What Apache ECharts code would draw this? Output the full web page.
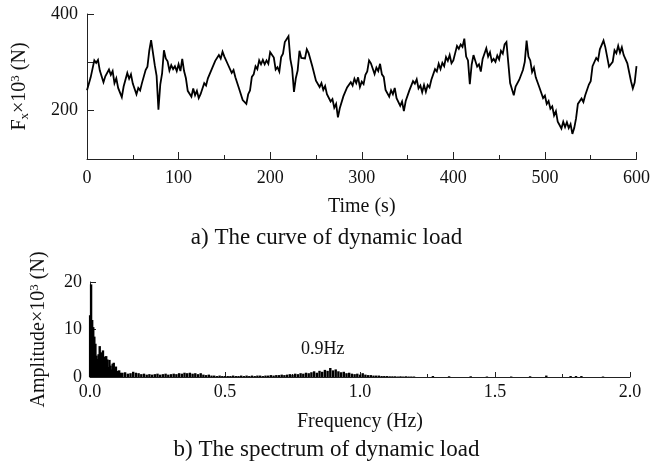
<!DOCTYPE html>
<html>
<head>
<meta charset="utf-8">
<script src="https://cdn.jsdelivr.net/npm/echarts@6/dist/echarts.min.js"></script>
<style>
html,body{margin:0;padding:0;background:#fff;}
#chart{width:653px;height:472px;}
</style>
</head>
<body>
<div id="chart"></div>
<script>
// ---- Data: dynamic load time history (time step 2 s, 0..600 s), values in kN ----
var timeStart = 0;
var timeStep = 2;
var loadValues = [
242,244,269,272,304,299,305,283,282,259,271,271,285,274,282,257,267,247,243,228,
250,253,278,266,275,256,256,234,247,242,257,255,284,291,324,346,342,294,272,202,
254,277,325,308,302,283,294,286,292,282,296,282,307,282,267,241,242,229,246,232,
241,226,234,230,257,252,267,265,285,281,303,299,315,308,322,312,314,295,297,278,
284,269,271,246,247,222,226,214,234,242,270,275,292,286,304,296,305,296,304,297,
321,317,310,285,290,281,311,318,342,339,354,307,287,239,267,283,324,309,311,308,
327,319,316,292,294,262,263,249,257,243,251,234,237,219,224,206,214,186,205,208,
230,226,248,244,259,252,266,257,269,249,260,255,274,281,304,298,295,276,289,282,
297,275,270,243,244,229,242,234,247,226,229,210,219,199,220,221,242,239,261,256,
265,246,252,238,253,239,253,248,264,263,286,281,297,286,299,292,311,303,315,298,
304,306,334,328,337,332,349,312,304,255,295,315,317,291,296,281,307,309,329,312,
321,302,307,301,314,306,324,318,337,342,299,257,254,232,250,248,264,261,284,301,
345,312,304,280,289,269,267,248,247,226,231,214,220,204,209,190,199,177,177,163,
177,166,176,164,172,152,164,184,214,212,225,218,232,229,254,261,292,289,309,304,
327,325,345,331,328,291,296,301,325,319,334,320,331,315,317,298,300,261,246,258,
292
];
var timeTicks = [0, 100, 200, 300, 400, 500, 600];
var loadTickLabels = [200, 400];

// ---- Data: amplitude spectrum (frequency in Hz, amplitude in kN) ----
var specFreq = [
0.000,0.004,0.008,0.012,0.016,0.020,0.024,0.028,0.032,0.036,
0.040,0.044,0.048,0.052,0.056,0.060,0.064,0.068,0.072,0.076,
0.080,0.084,0.088,0.092,0.096,0.100,0.104,0.108,0.112,0.116,
0.12,0.13,0.14,0.15,0.16,0.17,0.18,0.19,0.20,0.21,
0.22,0.23,0.24,0.25,0.26,0.27,0.28,0.29,0.30,0.31,
0.32,0.33,0.34,0.35,0.36,0.37,0.38,0.39,0.40,0.41,
0.42,0.43,0.44,0.45,0.46,0.47,0.48,0.49,0.50,0.51,
0.52,0.53,0.54,0.55,0.56,0.57,0.58,0.59,0.60,0.61,
0.62,0.63,0.64,0.65,0.66,0.67,0.68,0.69,0.70,0.71,
0.72,0.73,0.74,0.75,0.76,0.77,0.78,0.79,0.80,0.81,
0.82,0.83,0.84,0.85,0.86,0.87,0.88,0.89,0.90,0.91,
0.92,0.93,0.94,0.95,0.96,0.97,0.98,0.99,1.00,1.01,
1.02,1.03,1.04,1.05,1.06,1.07,1.08,1.09,1.10,1.11,
1.12,1.13,1.14,1.15,1.16,1.17,1.18,1.19,1.20,
1.27,1.33,1.41,1.47,1.56,1.63,1.69,1.78,1.80,1.82,1.90
];
var specAmp = [
13,19.5,12,10.5,8.5,7,4.5,3.8,4.8,6.5,
5.2,3.4,5.6,4.3,2.6,4.4,3.7,2.1,3.6,2.4,
1.6,2.8,3.0,1.7,2.2,1.3,1.0,1.4,0.9,0.8,
0.9,1.0,0.7,0.8,1.1,0.9,0.8,0.6,0.7,0.5,
0.6,0.5,0.6,0.7,0.5,0.6,0.7,0.5,0.6,0.7,
0.6,0.8,0.7,0.9,0.8,0.9,0.7,0.8,0.6,0.8,
0.5,0.4,0.5,0.3,0.3,0.2,0.3,0.2,0.2,0.2,
0.2,0.3,0.2,0.2,0.3,0.2,0.3,0.2,0.3,0.2,
0.3,0.3,0.2,0.3,0.3,0.4,0.3,0.4,0.4,0.5,
0.4,0.5,0.6,0.5,0.7,0.6,0.8,0.7,0.9,0.8,
1.0,1.2,0.9,1.3,1.1,1.5,1.3,1.9,1.4,1.6,
1.2,1.0,1.1,0.8,0.9,0.7,0.6,0.7,0.5,0.8,
0.5,0.4,0.4,0.3,0.3,0.3,0.2,0.2,0.2,0.15,
0.15,0.15,0.1,0.15,0.1,0.15,0.1,0.1,0.1,
0.2,0.15,0.15,0.1,0.1,0.15,0.3,0.2,0.2,0.2,0.1
];
var freqTicks = [0.0, 0.5, 1.0, 1.5, 2.0];
var ampTicks = [0, 10, 20];

var captionA = 'a) The curve of dynamic load';
var captionB = 'b) The spectrum of dynamic load';
var peakNote = '0.9Hz';

// ---- Build ----
var loadData = loadValues.map(function (v, i) { return [timeStart + i * timeStep, v]; });
var specData = specFreq.map(function (f, i) { return [f, specAmp[i]]; });

var FONT = 'Liberation Serif';
var INK = '#111';
var AXC = '#222';

var chart = echarts.init(document.getElementById('chart'), null, {renderer: 'canvas'});

function axisCommon() {
  return {
    axisLine: {show: true, lineStyle: {color: AXC, width: 1}},
    axisTick: {show: true, inside: true, length: 7, lineStyle: {color: AXC, width: 1}},
    splitLine: {show: false},
    axisLabel: {color: INK, fontFamily: FONT, fontSize: 18}
  };
}

var xTop = axisCommon();
Object.assign(xTop, {
  type: 'value', gridIndex: 0, min: 0, max: 600, interval: 100,
  name: 'Time (s)', nameLocation: 'middle', nameGap: 38,
  nameTextStyle: {color: INK, fontFamily: FONT, fontSize: 20},
  minorTick: {show: true, splitNumber: 2, length: 4, lineStyle: {color: AXC, width: 1}}
});
xTop.axisLabel = {color: INK, fontFamily: FONT, fontSize: 18, margin: 10,
  formatter: function (v) { return timeTicks.indexOf(v) >= 0 ? String(v) : ''; }};

var yTop = axisCommon();
Object.assign(yTop, {
  type: 'value', gridIndex: 0, min: 100, max: 400, interval: 100,
  name: '{n|F}{sub|x}{n|×10}{sup|3}{n| (N)}', nameLocation: 'middle', nameGap: 56, nameRotate: 90,
  nameTextStyle: {color: INK, fontFamily: FONT, fontSize: 20,
    rich: {
      n: {fontFamily: FONT, fontSize: 20, color: INK},
      sub: {fontFamily: FONT, fontSize: 13, color: INK, verticalAlign: 'bottom', padding: [9, 0, 0, 0]},
      sup: {fontFamily: FONT, fontSize: 13, color: INK, verticalAlign: 'top', padding: [0, 0, 9, 0]}
    }}
});
yTop.axisLabel = {color: INK, fontFamily: FONT, fontSize: 18, margin: 9,
  formatter: function (v) { return loadTickLabels.indexOf(v) >= 0 ? String(v) : ''; }};

var xBot = axisCommon();
Object.assign(xBot, {
  type: 'value', gridIndex: 1, min: 0, max: 2, interval: 0.5,
  name: 'Frequency (Hz)', nameLocation: 'middle', nameGap: 35,
  nameTextStyle: {color: INK, fontFamily: FONT, fontSize: 20},
  minorTick: {show: true, splitNumber: 2, length: 3, lineStyle: {color: AXC, width: 1}}
});
xBot.axisTick = {show: true, inside: true, length: 5, lineStyle: {color: AXC, width: 1}};
xBot.axisLabel = {color: INK, fontFamily: FONT, fontSize: 18, margin: 6,
  formatter: function (v) {
    for (var i = 0; i < freqTicks.length; i++) { if (Math.abs(freqTicks[i] - v) < 1e-9) return freqTicks[i].toFixed(1); }
    return '';
  }};

var yBot = axisCommon();
Object.assign(yBot, {
  type: 'value', gridIndex: 1, min: 0, max: 20, interval: 10,
  name: '{n|Amplitude×10}{sup|3}{n| (N)}', nameLocation: 'middle', nameGap: 40, nameRotate: 90,
  nameTextStyle: {color: INK, fontFamily: FONT, fontSize: 20,
    rich: {
      n: {fontFamily: FONT, fontSize: 20, color: INK},
      sup: {fontFamily: FONT, fontSize: 13, color: INK, verticalAlign: 'top', padding: [0, 0, 9, 0]}
    }}
});
yBot.axisTick = {show: true, inside: true, length: 6, lineStyle: {color: AXC, width: 1}};
yBot.axisLabel = {color: INK, fontFamily: FONT, fontSize: 18, margin: 8,
  formatter: function (v) { return ampTicks.indexOf(v) >= 0 ? String(v) : ''; }};

var option = {
  animation: false,
  backgroundColor: '#fff',
  grid: [
    {left: 87, right: 14, top: 14, height: 145, containLabel: false},
    {left: 90, right: 23, top: 282, height: 95, containLabel: false}
  ],
  xAxis: [xTop, xBot],
  yAxis: [yTop, yBot],
  series: [
    {
      type: 'line', xAxisIndex: 0, yAxisIndex: 0, data: loadData,
      showSymbol: false, symbol: 'none',
      lineStyle: {color: '#000', width: 1.8, join: 'miter', miterLimit: 4}
    },
    {
      type: 'bar', xAxisIndex: 1, yAxisIndex: 1, data: specData,
      barWidth: 2.4, barGap: '-100%', itemStyle: {color: '#000'}
    }
  ],
  graphic: [
    {type: 'text', left: 'center', top: 226, style: {text: captionA, fontFamily: FONT, fontSize: 23, fill: INK}, x: -6},
    {type: 'text', left: 'center', top: 438, style: {text: captionB, fontFamily: FONT, fontSize: 23, fill: INK}, x: -6},
    {type: 'text', left: 301, top: 340, style: {text: peakNote, fontFamily: FONT, fontSize: 18, fill: INK}}
  ]
};
chart.setOption(option);
</script>
</body>
</html>
